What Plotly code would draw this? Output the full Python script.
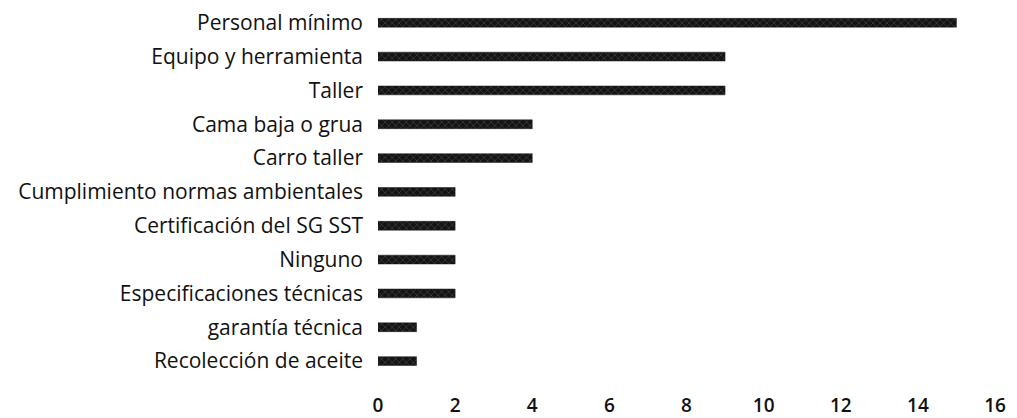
import plotly.graph_objects as go

categories = ["Personal mínimo", "Equipo y herramienta", "Taller", "Cama baja o grua",
              "Carro taller", "Cumplimiento normas ambientales", "Certificación del SG SST",
              "Ninguno", "Especificaciones técnicas", "garantía técnica", "Recolección de aceite"]
values = [15, 9, 9, 4, 4, 2, 2, 2, 2, 1, 1]
x_ticks = [0, 2, 4, 6, 8, 10, 12, 14, 16]

fig = go.Figure(go.Bar(
    x=values, y=categories, orientation="h", width=0.26,
    marker=dict(color="#141414", line=dict(color="#141414", width=0.5),
                pattern=dict(shape="x", fgcolor="#d8d8d8", size=5, solidity=0.12)),
))
fig.update_layout(
    width=1009, height=410,
    margin=dict(l=370, r=22, t=0, b=39),
    paper_bgcolor="white", plot_bgcolor="white",
    font=dict(family="Open Sans", size=21, color="#111", weight=500),
    showlegend=False,
    xaxis=dict(range=[0, 16], tickvals=x_ticks, showgrid=False, zeroline=False,
               showline=False, ticks="", ticklabelstandoff=14,
               tickfont=dict(size=19, color="#111", weight=600)),
    yaxis=dict(categoryorder="array", categoryarray=categories,
               range=[10.5, -0.2], showgrid=False, zeroline=False, showline=False,
               ticks="", ticklabelstandoff=14,
               tickfont=dict(size=21, color="#111", weight=500)),
)
fig.write_html("out.html")
